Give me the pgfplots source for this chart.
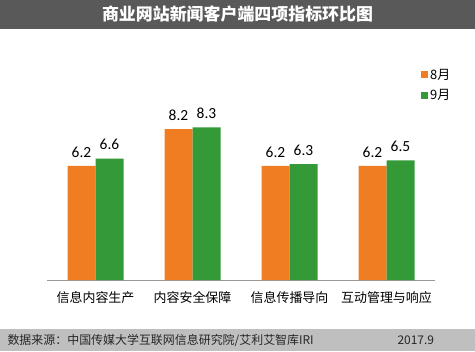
\documentclass[border=0pt]{standalone}
\usepackage{pgfplots}
\pgfplotsset{compat=1.18}
\usepackage{fontspec}
\setmainfont{Carlito}
\newfontfamily\cjk{Noto Sans CJK SC}
\definecolor{orangeb}{HTML}{F07D22}
\definecolor{greenb}{HTML}{349A37}
\definecolor{titlebg}{HTML}{595959}
\definecolor{footbg}{HTML}{BFBFBF}
\begin{document}
\begin{tikzpicture}[x=1bp,y=1bp]
\fill[white] (0,0) rectangle (475,351);
\fill[titlebg] (0,322) rectangle (475,351);
\fill[footbg] (0,0) rectangle (475,22);
\node[white,font=\cjk\bfseries\fontsize{17}{20}\selectfont] at (237.5,337) {商业网站新闻客户端四项指标环比图};
\node[anchor=west,font=\cjk\fontsize{12}{14}\selectfont,text=black!85] at (4,11) {数据来源：中国传媒大学互联网信息研究院/艾利艾智库IRI};
\node[anchor=west,font=\cjk\fontsize{12}{14}\selectfont,text=black!85] at (394,11) {2017.9};
\begin{axis}[
  at={(47bp,71bp)}, anchor=south west,
  scale only axis, width=388bp, height=184bp,
  xmin=-0.5, xmax=3.5, ymin=0, ymax=10,
  ybar=0pt, bar width=28bp,
  axis y line=none, axis x line*=bottom,
  axis line style={draw=gray!80, line width=0.8pt},
  xtick=data, xtick style={draw=none},
  xticklabels={信息内容生产,内容安全保障,信息传播导向,互动管理与响应},
  xticklabel style={font=\cjk\fontsize{13}{15}\selectfont, yshift=-4bp},
  nodes near coords,
  every node near coord/.append style={font=\fontsize{15.5}{18}\selectfont, yshift=5bp, /pgf/number format/fixed, /pgf/number format/precision=1, /pgf/number format/fixed zerofill},
  /pgf/number format/assume math mode=true,
  legend style={at={(0.956,1.17)}, anchor=north west, draw=none, fill=none, font=\cjk\fontsize{13}{15}\selectfont, row sep=5bp, cells={anchor=west}},
  legend image code/.code={\fill[#1] (0bp,-3.5bp) rectangle (7bp,3.5bp);},
  clip=false,
]
\addplot[fill=orangeb, draw=none] coordinates {(0,6.2) (1,8.2) (2,6.2) (3,6.2)};
\addplot[fill=greenb, draw=none] coordinates {(0,6.6) (1,8.3) (2,6.3) (3,6.5)};
\legend{8月,9月}
\end{axis}
\end{tikzpicture}
\end{document}
